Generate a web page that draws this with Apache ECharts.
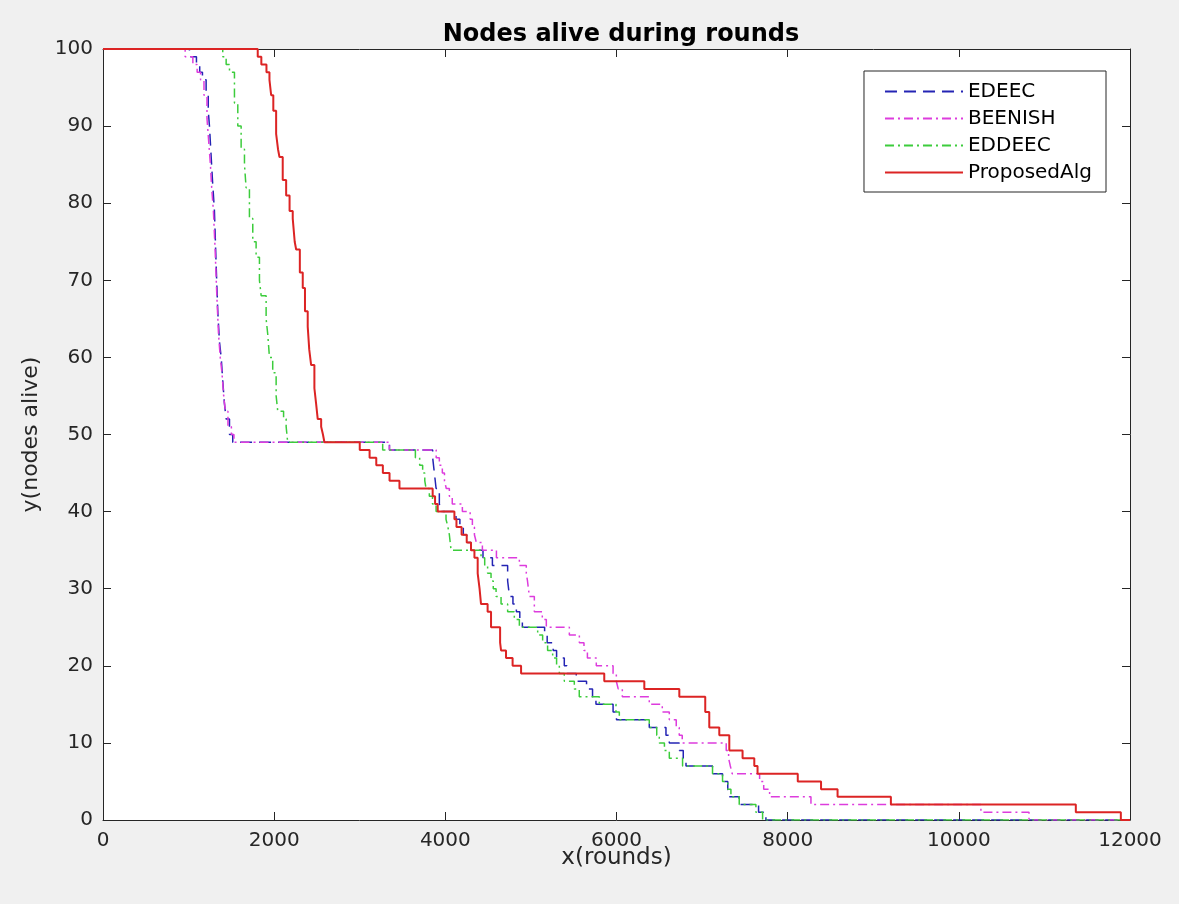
<!DOCTYPE html>
<html>
<head>
<meta charset="utf-8">
<script src="https://cdn.jsdelivr.net/npm/echarts@6/dist/echarts.min.js"></script>
<style>
  html, body { margin: 0; padding: 0; background: #f0f0f0; }
  #chart { width: 1179px; height: 904px; }
</style>
</head>
<body>
<div id="chart"></div>
<script>
  // [round, nodes alive from this round on]
  const edeec = [[0,100],[1010,99],[1092,98],[1130,97],[1162,96],[1205,94],[1230,92],[1244,90],[1264,86],[1279,83],[1302,79],[1322,72],[1341,66],[1361,62],[1381,60],[1399,57],[1419,54],[1439,52],[1478,50],[1516,49],
    [3347,48],[3852,47],[3872,45],[3892,43],[3930,41],[3950,40],[4125,39],[4170,38],[4210,37],[4250,36],[4300,35],[4440,34],[4550,33],[4728,31],[4750,29],[4790,28],[4830,27],[4870,26],[4900,25],[5160,24],[5190,23],[5260,22],[5300,21],[5390,20],[5420,19],[5530,18],[5650,17],[5720,16],[5760,15],[5960,14],[6000,13],[6383,12],[6578,11],[6617,10],[6733,9],[6780,8],[6812,7],[7122,6],[7239,5],[7300,4],[7317,3],[7434,2],[7660,1],[7746,0],[12000,0]];

  const beenish = [[0,100],[960,99],[1050,98],[1100,97],[1140,96],[1180,94],[1215,91],[1235,88],[1255,85],[1270,82],[1290,79],[1310,74],[1330,68],[1350,63],[1370,60],[1390,58],[1410,55],[1430,53],[1460,51],[1500,50],[1530,49],
    [3347,48],[3893,47],[3930,46],[3965,45],[3990,44],[4011,43],[4047,42],[4081,41],[4199,40],[4290,39],[4316,38],[4340,37],[4362,36],[4433,35],[4597,34],[4865,33],[4946,32],[4960,31],[4982,29],[5040,27],[5133,26],[5180,25],[5449,24],[5566,23],[5620,22],[5660,21],[5764,20],[5960,19],[5998,18],[6020,17],[6068,16],[6383,15],[6535,14],[6617,13],[6698,12],[6733,11],[6768,10],[7282,9],[7310,8],[7330,7],[7352,6],[7672,5],[7720,4],[7789,3],[8272,2],[10258,1],[10820,0],[12000,0]];

  const eddeec = [[0,100],[1399,99],[1439,98],[1478,97],[1536,93],[1575,90],[1614,87],[1653,85],[1672,82],[1711,78],[1750,75],[1789,73],[1828,70],[1848,68],[1906,65],[1925,63],[1945,60],[1983,58],[2023,55],[2042,53],[2110,52],[2140,51],[2158,49],
    [3268,48],[3650,47],[3700,46],[3735,45],[3760,44],[3775,43],[3813,42],[3850,41],[3892,40],[4008,39],[4030,38],[4047,37],[4067,35],[4417,34],[4460,33],[4494,32],[4534,31],[4560,30],[4593,29],[4651,28],[4728,27],[4806,26],[4865,25],[5079,24],[5137,23],[5195,22],[5254,21],[5300,20],[5332,19],[5390,18],[5507,17],[5565,16],[5799,15],[5994,14],[6033,13],[6383,12],[6470,11],[6500,10],[6560,9],[6617,8],[6772,7],[7122,6],[7239,5],[7300,4],[7337,3],[7434,2],[7629,1],[7707,0],[12000,0]];

  const proposed = [[0,100],[1808,99],[1850,98],[1910,97],[1945,96],[1965,94],[1990,92],[2023,89],[2045,87],[2062,86],[2100,83],[2140,81],[2180,79],[2217,78],[2240,75],[2257,74],[2300,71],[2334,69],[2360,66],[2392,64],[2410,61],[2432,59],[2470,56],[2490,54],[2509,52],[2549,51],[2570,50],[2587,49],
    [3000,48],[3115,47],[3193,46],[3270,45],[3348,44],[3464,43],[3852,42],[3880,41],[3911,40],[4106,39],[4130,38],[4190,37],[4250,36],[4300,35],[4340,34],[4378,32],[4400,30],[4417,28],[4494,27],[4534,25],[4640,23],[4651,22],[4709,21],[4786,20],[4885,19],[5857,18],[6325,17],[6734,16],[7037,14],[7084,12],[7201,11],[7318,9],[7473,8],[7610,7],[7648,6],[8118,5],[8390,4],[8583,3],[9206,2],[11367,1],[11893,0],[12000,0]];

  const seriesNames = ['EDEEC', 'BEENISH', 'EDDEEC', 'ProposedAlg'];
  const xTicks = [0, 12000, 2000];
  const yTicks = [0, 100, 10];

  const FONT = 'DejaVu Sans, Verdana, sans-serif';
  const AX = '#262626';

  function axisCommon(show, margin) {
    return {
      axisLine: { show: true, onZero: false, lineStyle: { color: AX, width: 1 } },
      axisTick: { show: true, inside: true, length: 8, lineStyle: { color: AX } },
      axisLabel: { show: show, color: AX, fontSize: 20, fontFamily: FONT, margin: margin,
                   formatter: v => String(v) },
      splitLine: { show: false }
    };
  }

  const chart = echarts.init(document.getElementById('chart'));

  chart.setOption({
    backgroundColor: '#f0f0f0',
    animation: false,
    title: {
      text: 'Nodes alive during rounds',
      left: 616, top: 18, textAlign: 'center',
      textStyle: { fontFamily: FONT, fontSize: 24, fontWeight: 'bold', color: '#000' }
    },
    legend: {
      orient: 'vertical',
      right: 73, top: 71,
      backgroundColor: '#fff',
      borderColor: AX, borderWidth: 1,
      padding: [10, 14, 9, 20],
      itemWidth: 78, itemHeight: 18, itemGap: 6,
      itemStyle: { opacity: 0 },
      textStyle: { fontFamily: FONT, fontSize: 20, color: '#000', lineHeight: 21 },
      data: seriesNames
    },
    grid: {
      left: 103, right: 49, top: 49, bottom: 84,
      show: true, backgroundColor: '#fff', borderWidth: 0
    },
    xAxis: [
      Object.assign({
        type: 'value', position: 'bottom',
        min: xTicks[0], max: xTicks[1], interval: xTicks[2],
        name: 'x(rounds)', nameLocation: 'middle', nameGap: 27, nameMoveOverlap: false,
        nameTextStyle: { fontFamily: FONT, fontSize: 23, color: AX }
      }, axisCommon(true, 11)),
      Object.assign({
        type: 'value', position: 'top',
        min: xTicks[0], max: xTicks[1], interval: xTicks[2]
      }, axisCommon(false, 8))
    ],
    yAxis: [
      Object.assign({
        type: 'value', position: 'left',
        min: yTicks[0], max: yTicks[1], interval: yTicks[2],
        name: 'y(nodes alive)', nameLocation: 'middle', nameGap: 61,
        nameTextStyle: { fontFamily: FONT, fontSize: 22, color: AX }
      }, axisCommon(true, 10)),
      Object.assign({
        type: 'value', position: 'right',
        min: yTicks[0], max: yTicks[1], interval: yTicks[2]
      }, axisCommon(false, 8))
    ],
    series: [
      {
        name: seriesNames[0], type: 'line', step: 'end', symbol: 'none',
        data: edeec,
        lineStyle: { color: '#2424b4', width: 1.5, type: [12, 7] },
        itemStyle: { color: '#2424b4' }
      },
      {
        name: seriesNames[1], type: 'line', step: 'end', symbol: 'none',
        data: beenish,
        lineStyle: { color: '#dd3cdd', width: 1.5, type: [9, 4, 2, 4] },
        itemStyle: { color: '#dd3cdd' }
      },
      {
        name: seriesNames[2], type: 'line', step: 'end', symbol: 'none',
        data: eddeec,
        lineStyle: { color: '#3ccc3c', width: 1.5, type: [9, 4, 2, 4] },
        itemStyle: { color: '#3ccc3c' }
      },
      {
        name: seriesNames[3], type: 'line', step: 'end', symbol: 'none',
        data: proposed,
        lineStyle: { color: '#dc2424', width: 2 },
        itemStyle: { color: '#dc2424' }
      }
    ]
  });
</script>
</body>
</html>
